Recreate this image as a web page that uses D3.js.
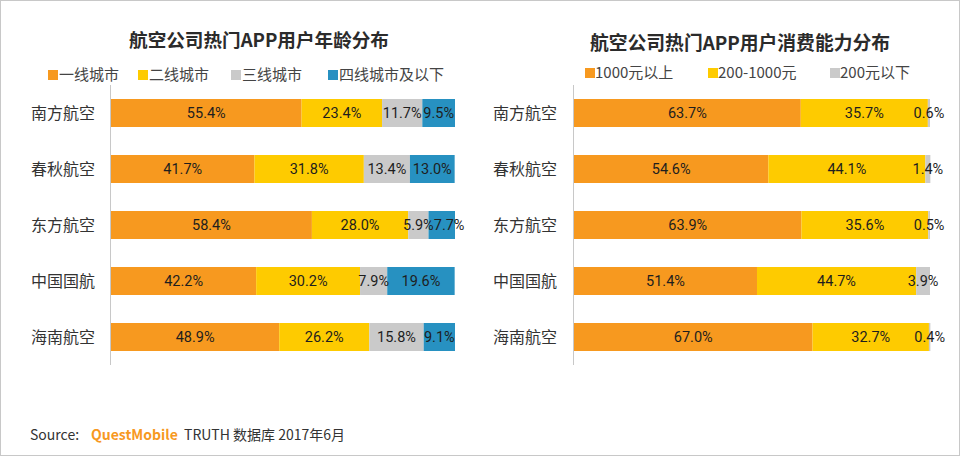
<!DOCTYPE html>
<html>
<head>
<meta charset="utf-8">
<script src="https://cdn.jsdelivr.net/npm/d3@7"></script>
<style>
  body { margin: 0; background: #fff; }
  svg { display: block; font-family: "Noto Sans CJK SC", "Noto Sans", sans-serif; }
</style>
</head>
<body>
<div id="chart"></div>
<script>
// data
const airlines = ["南方航空", "春秋航空", "东方航空", "中国国航", "海南航空"];

const cityTiers = ["一线城市", "二线城市", "三线城市", "四线城市及以下"];
const tier1 = [55.4, 41.7, 58.4, 42.2, 48.9];
const tier2 = [23.4, 31.8, 28.0, 30.2, 26.2];
const tier3 = [11.7, 13.4, 5.9, 7.9, 15.8];
const tier4 = [9.5, 13.0, 7.7, 19.6, 9.1];

const spendLevels = ["1000元以上", "200-1000元", "200元以下"];
const spendHigh = [63.7, 54.6, 63.9, 51.4, 67.0];
const spendMid = [35.7, 44.1, 35.6, 44.7, 32.7];
const spendLow = [0.6, 1.4, 0.5, 3.9, 0.4];

const colors = ["#F7991F", "#FECB00", "#CACACA", "#2791C1"];

const W = 960, H = 456;

const svg = d3.select("#chart").append("svg")
    .attr("width", W)
    .attr("height", H);

// frame
svg.append("rect")
    .attr("x", 0.5).attr("y", 0.5)
    .attr("width", W - 1).attr("height", H - 1)
    .attr("fill", "none")
    .attr("stroke", "#c8c8c8");

function drawPanel(opts) {
    const g = svg.append("g");
    const rows = airlines.map((name, i) => {
        const vals = opts.series.map(s => s[i]);
        let acc = 0;
        return { name: name, segs: vals.map((v, k) => { const s = { k: k, v: v, x0: acc }; acc += v; return s; }) };
    });

    const x = d3.scaleLinear().domain([0, 100]).range([opts.x0, opts.x1]);
    const y = d3.scaleBand().domain(airlines).range([85, 365]).paddingInner(0.5).paddingOuter(0.25);

    // title
    g.append("text")
        .attr("x", opts.titleX)
        .attr("y", opts.titleY)
        .attr("text-anchor", "middle")
        .style("font-size", opts.titleSize + "px")
        .style("font-weight", "bold")
        .style("fill", "#2b2b2b")
        .text(opts.title);

    // legend
    const leg = g.selectAll("g.legend")
        .data(opts.legend)
        .join("g")
        .attr("class", "legend")
        .attr("transform", (d, i) => "translate(" + opts.legendX[i] + "," + opts.legendY + ")");
    leg.append("rect")
        .attr("x", 0).attr("y", -5)
        .attr("width", 10).attr("height", 10)
        .attr("fill", (d, i) => colors[i]);
    leg.append("text")
        .attr("x", opts.legendGap)
        .attr("dy", "0.35em")
        .style("font-size", "15px")
        .style("fill", "#444")
        .text(d => d);

    // vertical axis line
    g.append("line")
        .attr("x1", opts.x0 - 0.5).attr("x2", opts.x0 - 0.5)
        .attr("y1", 85).attr("y2", 365)
        .attr("stroke", "#c8c8c8");

    // category labels
    g.selectAll("text.cat")
        .data(airlines)
        .join("text")
        .attr("class", "cat")
        .attr("x", opts.catX)
        .attr("y", d => y(d) + y.bandwidth() / 2)
        .attr("dy", "0.35em")
        .attr("text-anchor", "end")
        .style("font-size", "16px")
        .style("fill", "#333")
        .text(d => d);

    const row = g.selectAll("g.row")
        .data(rows)
        .join("g")
        .attr("class", "row")
        .attr("transform", d => "translate(0," + y(d.name) + ")");

    row.selectAll("rect")
        .data(d => d.segs)
        .join("rect")
        .attr("x", d => x(d.x0))
        .attr("width", d => x(d.x0 + d.v) - x(d.x0))
        .attr("height", y.bandwidth())
        .attr("fill", d => colors[d.k]);

    row.each(function () {
        const labels = d3.select(this).selectAll("text")
            .data(d => d.segs)
            .join("text")
            .attr("x", d => x(d.x0 + d.v / 2))
            .attr("y", y.bandwidth() / 2)
            .attr("dy", "0.36em")
            .attr("text-anchor", "middle")
            .style("font-family", "Roboto, sans-serif")
            .style("font-size", "14.5px")
            .style("fill", "#1e1e1e")
            .text(d => d.v.toFixed(1) + "%");

        // nudge a label right when it would run into the one before it
        let prevRight = -Infinity;
        labels.each(function () {
            const t = d3.select(this);
            const w = this.getComputedTextLength();
            let cx = +t.attr("x");
            if (cx - w / 2 < prevRight) {
                cx = prevRight + w / 2;
                t.attr("x", cx);
            }
            prevRight = cx + w / 2;
        });
    });
}

drawPanel({
    title: "航空公司热门APP用户年龄分布",
    titleX: 259, titleY: 47, titleSize: 18.6,
    legend: cityTiers,
    legendX: [48, 138, 231, 328],
    legendY: 75,
    legendGap: 11,
    series: [tier1, tier2, tier3, tier4],
    x0: 111, x1: 455,
    catX: 95
});

drawPanel({
    title: "航空公司热门APP用户消费能力分布",
    titleX: 740, titleY: 50, titleSize: 18.8,
    legend: spendLevels,
    legendX: [585, 708, 830],
    legendY: 73,
    legendGap: 10,
    series: [spendHigh, spendMid, spendLow],
    x0: 574, x1: 930,
    catX: 557
});

// source line
const src = svg.append("g").style("font-size", "14px").style("fill", "#333");
src.append("text").attr("x", 30).attr("y", 440).text("Source:");
src.append("text")
    .attr("x", 91).attr("y", 440)
    .style("fill", "#F7991F")
    .style("font-weight", "bold")
    .text("QuestMobile");
src.append("text").attr("x", 184).attr("y", 440).text("TRUTH 数据库 2017年6月");
</script>
</body>
</html>
